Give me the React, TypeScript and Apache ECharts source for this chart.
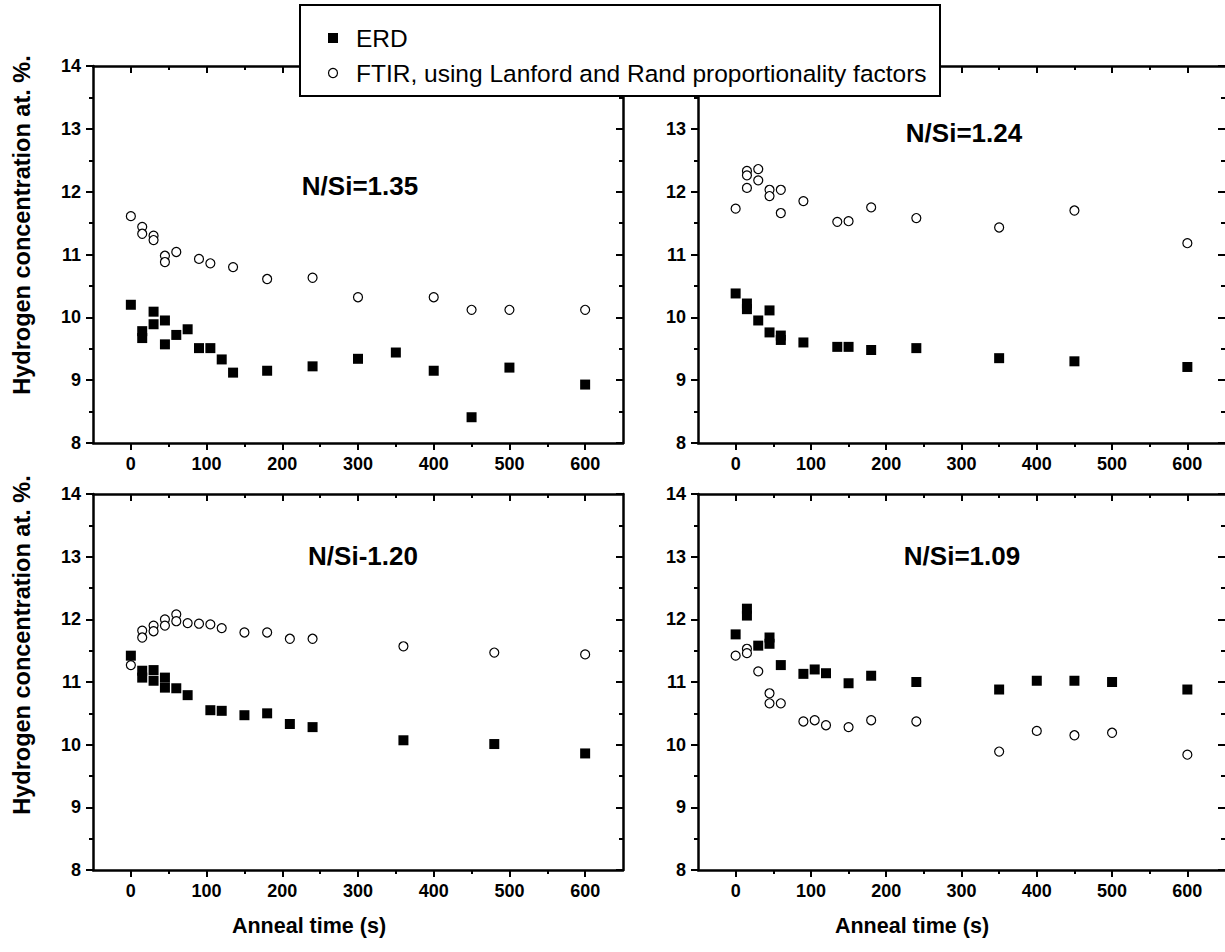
import React, { useEffect, useRef } from 'react';
import * as echarts from 'echarts';

const majorTimes = [0, 100, 200, 300, 400, 500, 600];
const minorTimes = [50, 150, 250, 350, 450, 550];

// N/Si=1.35
const erd135T = [0, 15, 15, 30, 30, 45, 45, 60, 75, 90, 105, 120, 135, 180, 240, 300, 350, 400, 450, 500, 600];
const erd135H = [10.2, 9.78, 9.67, 10.09, 9.89, 9.95, 9.57, 9.72, 9.81, 9.51, 9.51, 9.33, 9.12, 9.15, 9.22, 9.34, 9.44, 9.15, 8.41, 9.2, 8.93];
const ftir135T = [0, 15, 15, 30, 30, 45, 45, 60, 90, 105, 135, 180, 240, 300, 400, 450, 500, 600];
const ftir135H = [11.61, 11.44, 11.33, 11.3, 11.23, 10.98, 10.88, 11.04, 10.93, 10.86, 10.8, 10.61, 10.63, 10.32, 10.32, 10.12, 10.12, 10.12];

// N/Si=1.24
const erd124T = [0, 15, 15, 30, 45, 45, 60, 60, 90, 135, 150, 180, 240, 350, 450, 600];
const erd124H = [10.38, 10.22, 10.13, 9.95, 10.11, 9.76, 9.71, 9.64, 9.6, 9.53, 9.53, 9.48, 9.51, 9.35, 9.3, 9.21];
const ftir124T = [0, 15, 15, 15, 30, 30, 45, 45, 60, 60, 90, 135, 150, 180, 240, 350, 450, 600];
const ftir124H = [11.73, 12.33, 12.26, 12.06, 12.36, 12.18, 12.03, 11.93, 12.03, 11.66, 11.85, 11.52, 11.53, 11.75, 11.58, 11.43, 11.7, 11.18];

// N/Si-1.20
const erd120T = [0, 15, 15, 30, 30, 45, 45, 60, 75, 105, 120, 150, 180, 210, 240, 360, 480, 600];
const erd120H = [11.42, 11.18, 11.07, 11.19, 11.02, 11.07, 10.91, 10.9, 10.79, 10.55, 10.54, 10.47, 10.5, 10.33, 10.28, 10.07, 10.01, 9.86];
const ftir120T = [0, 15, 15, 30, 30, 45, 45, 60, 60, 75, 90, 105, 120, 150, 180, 210, 240, 360, 480, 600];
const ftir120H = [11.27, 11.82, 11.71, 11.9, 11.81, 12.0, 11.9, 12.08, 11.97, 11.94, 11.93, 11.92, 11.86, 11.79, 11.79, 11.69, 11.69, 11.57, 11.47, 11.44];

// N/Si=1.09
const erd109T = [0, 15, 15, 30, 45, 45, 60, 90, 105, 120, 150, 180, 240, 350, 400, 450, 500, 600];
const erd109H = [11.76, 12.17, 12.06, 11.58, 11.71, 11.61, 11.27, 11.13, 11.2, 11.14, 10.98, 11.1, 11.0, 10.88, 11.02, 11.02, 11.0, 10.88];
const ftir109T = [0, 15, 15, 30, 45, 45, 60, 90, 105, 120, 150, 180, 240, 350, 400, 450, 500, 600];
const ftir109H = [11.42, 11.53, 11.46, 11.17, 10.82, 10.66, 10.66, 10.37, 10.39, 10.31, 10.28, 10.39, 10.37, 9.89, 10.22, 10.15, 10.19, 9.84];

const panelTitles = ['N/Si=1.35', 'N/Si=1.24', 'N/Si-1.20', 'N/Si=1.09'];
const legendNames = ['ERD', 'FTIR, using Lanford and Rand proportionality factors'];
const yTitle = 'Hydrogen concentration at. %.';
const xTitle = 'Anneal time (s)';

const panels = [
  { erdT: erd135T, erdH: erd135H, ftT: ftir135T, ftH: ftir135H },
  { erdT: erd124T, erdH: erd124H, ftT: ftir124T, ftH: ftir124H },
  { erdT: erd120T, erdH: erd120H, ftT: ftir120T, ftH: ftir120H },
  { erdT: erd109T, erdH: erd109H, ftT: ftir109T, ftH: ftir109H },
];

const FONT = 'Liberation Sans, Arial, sans-serif';

const zip = (a: number[], b: number[]) => a.map((v, i) => [v, b[i]]);

export default function App() {
  const ref = useRef<HTMLDivElement>(null);
  useEffect(() => {
    if (!ref.current) return;
    const chart = echarts.init(ref.current, null, { renderer: 'svg' });
    const grids = [
      { left: 93, top: 66, width: 530, height: 377 },
      { left: 698, top: 66, width: 530, height: 377 },
      { left: 93, top: 494, width: 530, height: 376 },
      { left: 698, top: 494, width: 530, height: 376 },
    ];
    const LW = 2.5;
    const line = { show: true, onZero: false, lineStyle: { color: '#000', width: LW } };
    const noLine = { show: false, onZero: false };
    const tickStyle = { color: '#000', width: 2 };
    const xAxis: any[] = [];
    const yAxis: any[] = [];
    const series: any[] = [];
    grids.forEach((g, i) => {
      const base = { type: 'value', gridIndex: i, min: -50, max: 650, splitLine: { show: false } };
      xAxis.push({
        ...base, position: 'bottom', axisLine: line,
        axisTick: { show: true, inside: false, length: 7, customValues: majorTimes, lineStyle: tickStyle },
        axisLabel: { show: true, customValues: majorTimes, margin: 12, color: '#000', fontSize: 18, fontWeight: 'bold', fontFamily: FONT },
      });
      xAxis.push({
        ...base, position: 'bottom', axisLine: noLine,
        axisTick: { show: true, inside: false, length: 4, customValues: minorTimes, lineStyle: tickStyle },
        axisLabel: { show: false },
      });
      xAxis.push({
        ...base, position: 'top', axisLine: line,
        axisTick: { show: true, inside: true, length: 7, customValues: majorTimes, lineStyle: tickStyle },
        axisLabel: { show: false },
      });
      xAxis.push({
        ...base, position: 'top', axisLine: noLine,
        axisTick: { show: true, inside: true, length: 4, customValues: minorTimes, lineStyle: tickStyle },
        axisLabel: { show: false },
      });
      const ybase = { type: 'value', gridIndex: i, min: 8, max: 14, interval: 1, splitLine: { show: false } };
      yAxis.push({
        ...ybase, position: 'left', axisLine: line,
        axisTick: { show: true, inside: false, length: 7, lineStyle: tickStyle },
        minorTick: { show: true, splitNumber: 2, length: 4, lineStyle: tickStyle },
        axisLabel: {
          show: true, margin: 12, color: '#000', fontSize: 18, fontWeight: 'bold', fontFamily: FONT,
          // the top label of the upper-right panel is hidden under the legend box
          formatter: (v: number) => (i === 1 && v === 14 ? '' : String(v)),
        },
      });
      // right-hand panels: the right frame line falls just past the picture's edge
      const rightEdgeCut = i === 1 || i === 3;
      yAxis.push({
        ...ybase, position: 'right', axisLine: rightEdgeCut ? noLine : line,
        axisTick: { show: true, inside: true, length: 7, lineStyle: tickStyle },
        minorTick: { show: true, splitNumber: 2, length: 4, lineStyle: tickStyle },
        axisLabel: { show: false },
      });
      const p = panels[i];
      series.push({
        name: legendNames[0], type: 'scatter', xAxisIndex: i * 4, yAxisIndex: i * 2,
        symbol: 'rect', symbolSize: 10, itemStyle: { color: '#000', opacity: 1 },
        data: zip(p.erdT, p.erdH), z: 3,
      });
      series.push({
        name: legendNames[1], type: 'scatter', xAxisIndex: i * 4, yAxisIndex: i * 2,
        symbol: 'circle', symbolSize: 9, itemStyle: { color: '#fff', borderColor: '#000', borderWidth: 1.2, opacity: 1 },
        data: zip(p.ftT, p.ftH), z: 2,
      });
    });

    const titlePos = [[360, 186], [964, 133], [363, 556], [962, 556]];
    const graphic: any[] = [];
    panelTitles.forEach((t, i) => {
      graphic.push({
        type: 'text', x: titlePos[i][0], y: titlePos[i][1],
        style: { text: t, fill: '#000', font: `bold 26px ${FONT}`, align: 'center', verticalAlign: 'middle' },
      });
    });
    [225, 645].forEach((cy) => {
      graphic.push({
        type: 'text', x: 22, y: cy, rotation: Math.PI / 2,
        style: { text: yTitle, fill: '#000', font: `bold 23.5px ${FONT}`, align: 'center', verticalAlign: 'middle' },
      });
    });
    [309, 912].forEach((cx) => {
      graphic.push({
        type: 'text', x: cx, y: 926,
        style: { text: xTitle, fill: '#000', font: `bold 21.5px ${FONT}`, align: 'center', verticalAlign: 'middle' },
      });
    });
    // legend box
    const Z = 100;
    graphic.push({ type: 'rect', z: Z, shape: { x: 300, y: 5, width: 640, height: 91 }, style: { fill: '#fff', stroke: '#000', lineWidth: 2 } });
    graphic.push({ type: 'rect', z: Z + 1, shape: { x: 328, y: 33, width: 10, height: 10 }, style: { fill: '#000' } });
    graphic.push({ type: 'circle', z: Z + 1, shape: { cx: 333, cy: 73, r: 4.5 }, style: { fill: '#fff', stroke: '#000', lineWidth: 1.2 } });
    graphic.push({ type: 'text', z: Z + 1, x: 356, y: 38, style: { text: legendNames[0], fill: '#000', font: `24.5px ${FONT}`, verticalAlign: 'middle' } });
    graphic.push({ type: 'text', z: Z + 1, x: 356, y: 73, style: { text: legendNames[1], fill: '#000', font: `24.5px ${FONT}`, verticalAlign: 'middle' } });

    chart.setOption({
      animation: false,
      backgroundColor: '#fff',
      grid: grids.map((g) => ({ ...g, containLabel: false })),
      xAxis, yAxis, series, graphic,
    });
    return () => chart.dispose();
  }, []);
  return <div ref={ref} style={{ position: 'absolute', left: 0, top: 0, width: 1225, height: 952 }} />;
}
